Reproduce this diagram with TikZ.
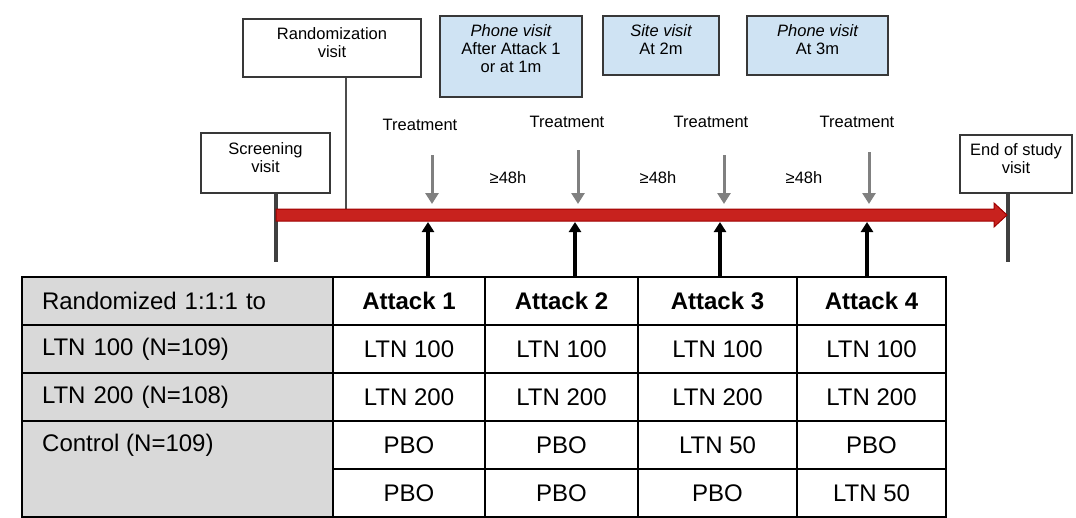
\documentclass[tikz,border=0pt]{standalone}
\usepackage{fontspec}
\setmainfont{Liberation Sans}
\usetikzlibrary{arrows.meta}
\definecolor{visitblue}{HTML}{CFE3F3}
\definecolor{armgray}{HTML}{D9D9D9}
\definecolor{barred}{HTML}{C8221E}
\definecolor{barrededge}{HTML}{A00000}
\definecolor{pole}{HTML}{404040}
\definecolor{treatgray}{HTML}{808080}
\begin{document}
\begin{tikzpicture}[x=1pt,y=-1pt,
  visit/.style={draw=black!78, line width=1.3pt, fill=white, inner sep=0pt},
  bluevisit/.style={visit, fill=visitblue},
  lbl/.style={font=\fontsize{16.5}{18}\selectfont, align=center, inner sep=0pt},
  cell/.style={draw=black, line width=1.8pt, fill=white, inner sep=0pt,
    minimum height=48pt, font=\fontsize{24}{27}\selectfont},
  armcell/.style={cell, fill=armgray, minimum width=311pt, text width=271pt,
    align=left, inner xsep=20pt},
  treat/.style={draw=treatgray, line width=3pt,
    -{Triangle[width=13pt,length=11pt]}},
  attack/.style={draw=black, line width=3.5pt,
    -{Triangle[width=12pt,length=10pt]}},
]
\useasboundingbox (0,0) rectangle (1076,517);

% visit boxes
\node[visit, minimum width=129pt, minimum height=60pt] (screen) at (265.5,163) {};
\node[lbl] at (265.5,157.5) {Screening\\visit};
\node[visit, minimum width=178pt, minimum height=58pt] (rand) at (332,48) {};
\node[lbl] at (332,42.5) {Randomization\\visit};
\node[bluevisit, minimum width=142pt, minimum height=81pt] (ph1) at (511,56.5) {};
\node[lbl] at (511,48.5) {\itshape Phone visit\\After Attack 1\\or at 1m};
\node[bluevisit, minimum width=116pt, minimum height=59pt] (site) at (661,45.5) {};
\node[lbl] at (661,39.5) {\itshape Site visit\\At 2m};
\node[bluevisit, minimum width=141pt, minimum height=59pt] (ph3) at (817.5,45.5) {};
\node[lbl] at (817.5,39.5) {\itshape Phone visit\\At 3m};
\node[visit, minimum width=112pt, minimum height=58pt] (eos) at (1016,164) {};
\node[lbl] at (1016,158.5) {End of study\\visit};

% poles under the visit boxes
\coordinate (screenfoot) at (276,262);
\coordinate (eosfoot) at (1008,262);
\coordinate (randfoot) at (346,209);
\draw[pole, line width=4pt] (screen.south -| screenfoot) -- (screenfoot);
\draw[pole, line width=4pt] (eos.south -| eosfoot) -- (eosfoot);
\draw[black!70, line width=2pt] (rand.south -| randfoot) -- (randfoot);

% study timeline bar
\draw[fill=barred, draw=barrededge, line width=1pt]
  (276,209) -- (994,209) -- (994,203) -- (1007,215) -- (994,227)
  -- (994,221) -- (276,221) -- cycle;

% treatment arrows
\node[lbl] (t1) at (420,125) {Treatment};
\node[lbl] (t2) at (567,122) {Treatment};
\node[lbl] (t3) at (711,122) {Treatment};
\node[lbl] (t4) at (857,122) {Treatment};
\foreach \x/\ys [count=\i] in {432/155,578/150,724/155,869/152}{
  \coordinate (ts\i) at (\x,\ys);
  \coordinate (te\i) at (\x,204);
  \draw[treat] (ts\i) -- (te\i);
}
\node[lbl] (g1) at (508,178) {≥48h};
\node[lbl] (g2) at (658,178) {≥48h};
\node[lbl] (g3) at (804,178) {≥48h};

% schedule table
\node[armcell, minimum height=48pt] (r0) at (177.5,301) {Randomized 1:1:1 to};
\node[armcell] (r1) at (177.5,349) {LTN 100 (N=109)};
\node[armcell] (r2) at (177.5,397) {LTN 200 (N=108)};
\node[cell, fill=armgray, minimum width=311pt, minimum height=96pt] (r3) at (177.5,469) {};
\node[font=\fontsize{24}{27}\selectfont, anchor=west, inner sep=0pt] at (42,445) {Control (N=109)};

\foreach \cx/\w/\a/\b/\c/\d/\e [count=\j] in
  {409/152/Attack 1/LTN 100/LTN 200/PBO/PBO,
   561.5/153/Attack 2/LTN 100/LTN 200/PBO/PBO,
   717.5/159/Attack 3/LTN 100/LTN 200/LTN 50/PBO,
   871.5/149/Attack 4/LTN 100/LTN 200/PBO/LTN 50}{
  \node[cell, minimum width=\w pt, font=\fontsize{24}{27}\selectfont\bfseries] (h\j) at (\cx,301) {\a};
  \node[cell, minimum width=\w pt] (c1\j) at (\cx,349) {\b};
  \node[cell, minimum width=\w pt] (c2\j) at (\cx,397) {\c};
  \node[cell, minimum width=\w pt] (c3\j) at (\cx,445) {\d};
  \node[cell, minimum width=\w pt] (c4\j) at (\cx,493) {\e};
}

% attack arrows up to the timeline
\foreach \x [count=\i] in {428,575,720,867}{
  \coordinate (as\i) at (\x,277);
  \coordinate (ae\i) at (\x,222);
  \draw[attack] (as\i) -- (ae\i);
}
\end{tikzpicture}
\end{document}
